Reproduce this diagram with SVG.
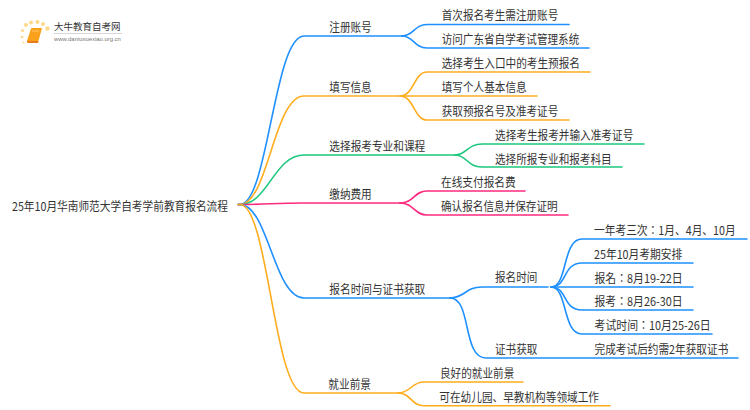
<svg xmlns="http://www.w3.org/2000/svg" width="750" height="410" viewBox="0 0 750 410">
<style>
text{font-family:"Noto Sans CJK SC","Noto Sans",sans-serif;font-size:12px;fill:#333}
.k{font-family:"Noto Sans CJK JP","Noto Sans",sans-serif}
.c{fill:none;stroke-width:1.6;stroke-linecap:round}
.b{stroke:#1e90ff}.o{stroke:#ffad1f}.g{stroke:#1cc77e}.p{stroke:#ff2a7f}
</style>
<rect width="750" height="410" fill="#fff"/>
<g id="logo">
<g fill="#ffd98a"><circle cx="26" cy="25" r="2"/><circle cx="31" cy="22.500" r="2"/><circle cx="37.500" cy="22" r="2"/><circle cx="43" cy="24" r="2"/><circle cx="47.500" cy="28.500" r="2.200"/><circle cx="22.500" cy="30.500" r="1.500"/><circle cx="22" cy="37" r="1.300"/><circle cx="23.500" cy="42.500" r="1"/></g>
<path d="M31 28.500Q31.500 28 32 28H42L38.500 41H27Z" fill="#f9a11b"/><path d="M27 41H38.500L38 43H28Q26.500 42.500 27 41Z" fill="#e9791a"/><path d="M32 31H39" stroke="#ffd98a" stroke-width=".7"/>
<text x="54" y="30" style="font-size:9.500px">大牛教育自考网</text>
<rect x="54" y="33" width="68" height="0.800" fill="#ccc"/>
<text x="54" y="41" style="font-size:5.900px;font-family:'Liberation Sans',sans-serif;fill:#777">www.daniuxuexiao.org.cn</text>
</g>
<g id="connectors">
<path class="c b" d="M238 204.500H240C268 204.500 274 36 304 36H402"/>
<path class="c o" d="M238 204.500H240C268 204.500 274 96 304 96H400"/>
<path class="c g" d="M238 204.500H240C268 204.500 274 155 304 155H455"/>
<path class="c p" d="M238 204.500H240C268 204.500 274 203 304 203H400"/>
<path class="c b" d="M238 204.500H240C268 204.500 274 298 304 298H450"/>
<path class="c o" d="M238 204.500H240C268 204.500 274 393 304 393H398"/>
<path class="c b" d="M402 36C414 36 414 24.500 427 24.500H569"/>
<path class="c b" d="M402 36C414 36 414 48 427 48H589"/>
<path class="c o" d="M400 96C414 96 414 72 427 72H590"/>
<path class="c o" d="M400 96H537"/>
<path class="c o" d="M400 96C414 96 414 120 427 120H569"/>
<path class="c g" d="M455 155C467 155 467 144 482 144H644"/>
<path class="c g" d="M455 155C467 155 467 167 482 167H622"/>
<path class="c p" d="M400 203C414 203 414 191 427 191H525"/>
<path class="c p" d="M400 203C414 203 414 215 427 215H568"/>
<path class="c o" d="M398 393C411 393 411 382 424 382H523"/>
<path class="c o" d="M398 393C411 393 411 405.700 424 405.700H610"/>
<path class="c b" d="M450 298C465 298 465 287 482 287H548"/>
<path class="c b" d="M450 298C472 298 462 358 486 358H738"/>
<path class="c b" d="M551 287C568 287 562 239 582 239H747"/>
<path class="c b" d="M551 287C568 287 562 263 582 263H693"/>
<path class="c b" d="M551 287H693"/>
<path class="c b" d="M551 287C568 287 562 310 582 310H693"/>
<path class="c b" d="M551 287C568 287 562 334 582 334H712"/>
</g>
<g id="root"><text x="12" y="210.700" textLength="216" lengthAdjust="spacingAndGlyphs">25年10月华南师范大学自考学前教育报名流程</text></g>
<g id="n1"><text x="329.300" y="31.700" textLength="42.400" lengthAdjust="spacingAndGlyphs">注册账号</text></g>
<g id="n1a"><text x="441.700" y="20.200" textLength="116.600" lengthAdjust="spacingAndGlyphs">首次报名考生需注册账号</text></g>
<g id="n1b"><text x="441.700" y="43.700" textLength="137.600" lengthAdjust="spacingAndGlyphs">访问广东省自学考试管理系统</text></g>
<g id="n2"><text x="329.300" y="91.700" textLength="42.400" lengthAdjust="spacingAndGlyphs">填写信息</text></g>
<g id="n2a"><text x="441.700" y="67.700" textLength="138.300" lengthAdjust="spacingAndGlyphs">选择考生入口中的考生预报名</text></g>
<g id="n2b"><text x="441.700" y="91.700" textLength="85" lengthAdjust="spacingAndGlyphs">填写个人基本信息</text></g>
<g id="n2c"><text x="441.700" y="115.700" textLength="116.600" lengthAdjust="spacingAndGlyphs">获取预报名号及准考证号</text></g>
<g id="n3"><text x="329.300" y="150.700" textLength="96" lengthAdjust="spacingAndGlyphs">选择报考专业和课程</text></g>
<g id="n3a"><text x="495" y="139.700" textLength="138.300" lengthAdjust="spacingAndGlyphs">选择考生报考并输入准考证号</text></g>
<g id="n3b"><text x="495" y="163.700" textLength="116.700" lengthAdjust="spacingAndGlyphs">选择所报专业和报考科目</text></g>
<g id="n4"><text x="329.300" y="198.700" textLength="42.400" lengthAdjust="spacingAndGlyphs">缴纳费用</text></g>
<g id="n4a"><text x="441" y="186.700" textLength="74.700" lengthAdjust="spacingAndGlyphs">在线支付报名费</text></g>
<g id="n4b"><text x="441" y="210.700" textLength="116.700" lengthAdjust="spacingAndGlyphs">确认报名信息并保存证明</text></g>
<g id="n5"><text x="329.300" y="293.700" textLength="96" lengthAdjust="spacingAndGlyphs">报名时间与证书获取</text></g>
<g id="n5a"><text x="495" y="281.700" textLength="42.300" lengthAdjust="spacingAndGlyphs">报名时间</text></g>
<g id="n5a1"><text class="k" transform="translate(594 234.700) scale(.8856 1)" textLength="160" lengthAdjust="spacingAndGlyphs">一年考三次：1月、4月、10月</text></g>
<g id="n5a2"><text x="594" y="258.700" textLength="88.300" lengthAdjust="spacingAndGlyphs">25年10月考期安排</text></g>
<g id="n5a3"><text class="k" x="594.500" y="282.700" textLength="88.200" lengthAdjust="spacingAndGlyphs">报名：8月19-22日</text></g>
<g id="n5a4"><text class="k" x="594.500" y="305.700" textLength="88.200" lengthAdjust="spacingAndGlyphs">报考：8月26-30日</text></g>
<g id="n5a5"><text class="k" x="594.500" y="329.700" textLength="116.200" lengthAdjust="spacingAndGlyphs">考试时间：10月25-26日</text></g>
<g id="n5b"><text x="495" y="353.700" textLength="42.300" lengthAdjust="spacingAndGlyphs">证书获取</text></g>
<g id="n5b1"><text x="594.500" y="353.700" textLength="133.800" lengthAdjust="spacingAndGlyphs">完成考试后约需2年获取证书</text></g>
<g id="n6"><text x="328.300" y="388.700" textLength="42.700" lengthAdjust="spacingAndGlyphs">就业前景</text></g>
<g id="n6a"><text x="440" y="377.700" textLength="74.300" lengthAdjust="spacingAndGlyphs">良好的就业前景</text></g>
<g id="n6b"><text x="439.300" y="401.700" textLength="159.700" lengthAdjust="spacingAndGlyphs">可在幼儿园、早教机构等领域工作</text></g>
</svg>
